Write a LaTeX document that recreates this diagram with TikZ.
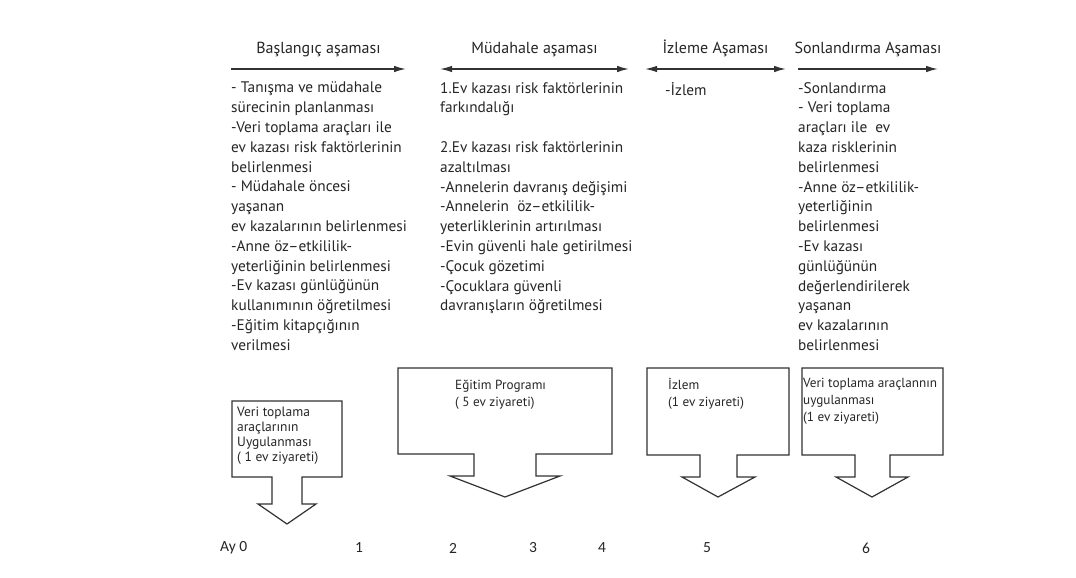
\documentclass[tikz,border=0pt]{standalone}
\usepackage{fontspec}
\setmainfont{PT Sans}
\newfontfamily\axisfont{Carlito}
\usetikzlibrary{arrows.meta}
\definecolor{linegray}{RGB}{50,50,50}
\definecolor{txtgray}{RGB}{38,38,38}

\begin{document}
\begin{tikzpicture}[x=1pt, y=-1pt,
  phase/.style={draw=linegray, line width=1.4pt, >={Latex[length=12pt,width=6.5pt]}},
  phaselabel/.style={above=11pt, inner sep=0pt, text=txtgray, font=\fontsize{16}{18}\selectfont},
  coltext/.style={anchor=north west, align=left, inner sep=0pt, text=txtgray, font=\fontsize{15.3}{19.8}\selectfont},
  boxtext/.style={anchor=north west, align=left, inner sep=0pt, text=txtgray, font=\fontsize{13.2}{17}\selectfont},
  visitbox/.style={draw=linegray, line width=1.2pt, line join=miter},
  month/.style={inner sep=0pt, text=txtgray, font=\axisfont\fontsize{15.5}{17}\selectfont}]
\useasboundingbox[fill=white] (0,0) rectangle (1076,578);

% phase arrows
\coordinate (p1a) at (231,69);
\coordinate (p1b) at (406,69);
\coordinate (p2a) at (440,69);
\coordinate (p2b) at (629,69);
\coordinate (p3a) at (645,69);
\coordinate (p3b) at (786,69);
\coordinate (p4a) at (798,69);
\coordinate (p4b) at (938,69);
\draw[phase, ->] (p1a) -- node[phaselabel]{Başlangıç aşaması} (p1b);
\draw[phase, <->] (p2a) -- node[phaselabel]{Müdahale aşaması} (p2b);
\draw[phase, <->] (p3a) -- node[phaselabel]{İzleme Aşaması} (p3b);
\draw[phase, ->] (p4a) -- node[phaselabel]{Sonlandırma Aşaması} (p4b);

% phase contents
\node[coltext] (basla) at (231,82) {- Tanışma ve müdahale\\ sürecinin planlanması\\ -Veri toplama araçları ile\\ ev kazası risk faktörlerinin\\ belirlenmesi\\ - Müdahale öncesi\\ yaşanan\\ ev kazalarının belirlenmesi\\ -Anne öz--etkililik-\\ yeterliğinin belirlenmesi\\ -Ev kazası günlüğünün\\ kullanımının öğretilmesi\\ -Eğitim kitapçığının\\ verilmesi};
\node[coltext] (mudahale) at (440,82) {1.Ev kazası risk faktörlerinin\\ farkındalığı\\[19.8pt] 2.Ev kazası risk faktörlerinin\\ azaltılması\\ -Annelerin davranış değişimi\\ -Annelerin \ öz--etkililik-\\ yeterliklerinin artırılması\\ -Evin güvenli hale getirilmesi\\ -Çocuk gözetimi\\ -Çocuklara güvenli\\ davranışların öğretilmesi};
\node[coltext] (izleme) at (665,82) {-İzlem};
\node[coltext] (sonlan) at (798,82) {-Sonlandırma\\ - Veri toplama\\ araçları ile \ ev\\ kaza risklerinin\\ belirlenmesi\\ -Anne öz--etkililik-\\ yeterliğinin\\ belirlenmesi\\ -Ev kazası\\ günlüğünün\\ değerlendirilerek\\ yaşanan\\ ev kazalarının\\ belirlenmesi};

% visit boxes
\draw[visitbox] (232,401) -- (342,401) -- (342,477) -- (302,477) -- (302,504) -- (316,504) -- (287,524) -- (258,504) -- (272,504) -- (272,477) -- (232,477) -- cycle;
\draw[visitbox] (398,368) -- (612,368) -- (612,454) -- (536,454) -- (536,476) -- (560,476) -- (505,497) -- (450,476) -- (474,476) -- (474,454) -- (398,454) -- cycle;
\draw[visitbox] (647,368) -- (789,368) -- (789,455) -- (737,455) -- (737,477) -- (755,477) -- (718,497) -- (682,477) -- (700,477) -- (700,455) -- (647,455) -- cycle;
\draw[visitbox] (802,368) -- (943,368) -- (943,455) -- (890,455) -- (890,477) -- (908,477) -- (872,497) -- (836,477) -- (855,477) -- (855,455) -- (802,455) -- cycle;

\node[boxtext, font=\fontsize{13.5}{15}\selectfont] (ziyaret0) at (237,407) {Veri toplama\\ araçlarının\\ Uygulanması\\ ( 1 ev ziyareti)};
\node[boxtext] (egitim) at (455,380) {Eğitim Programı\\ ( 5 ev ziyareti)};
\node[boxtext] (izlem) at (668,378) {İzlem\\ (1 ev ziyareti)};
\node[boxtext] (sonziyaret) at (803,378) {Veri toplama araçlannın\\ uygulanması\\ (1 ev ziyareti)};

% months
\node[month, anchor=west] (ay0) at (220,548) {Ay 0};
\node[month] (ay1) at (359,548) {1};
\node[month] (ay2) at (453,548) {2};
\node[month] (ay3) at (533,548) {3};
\node[month] (ay4) at (602,548) {4};
\node[month] (ay5) at (707,548) {5};
\node[month] (ay6) at (866,548) {6};
\end{tikzpicture}
\end{document}
